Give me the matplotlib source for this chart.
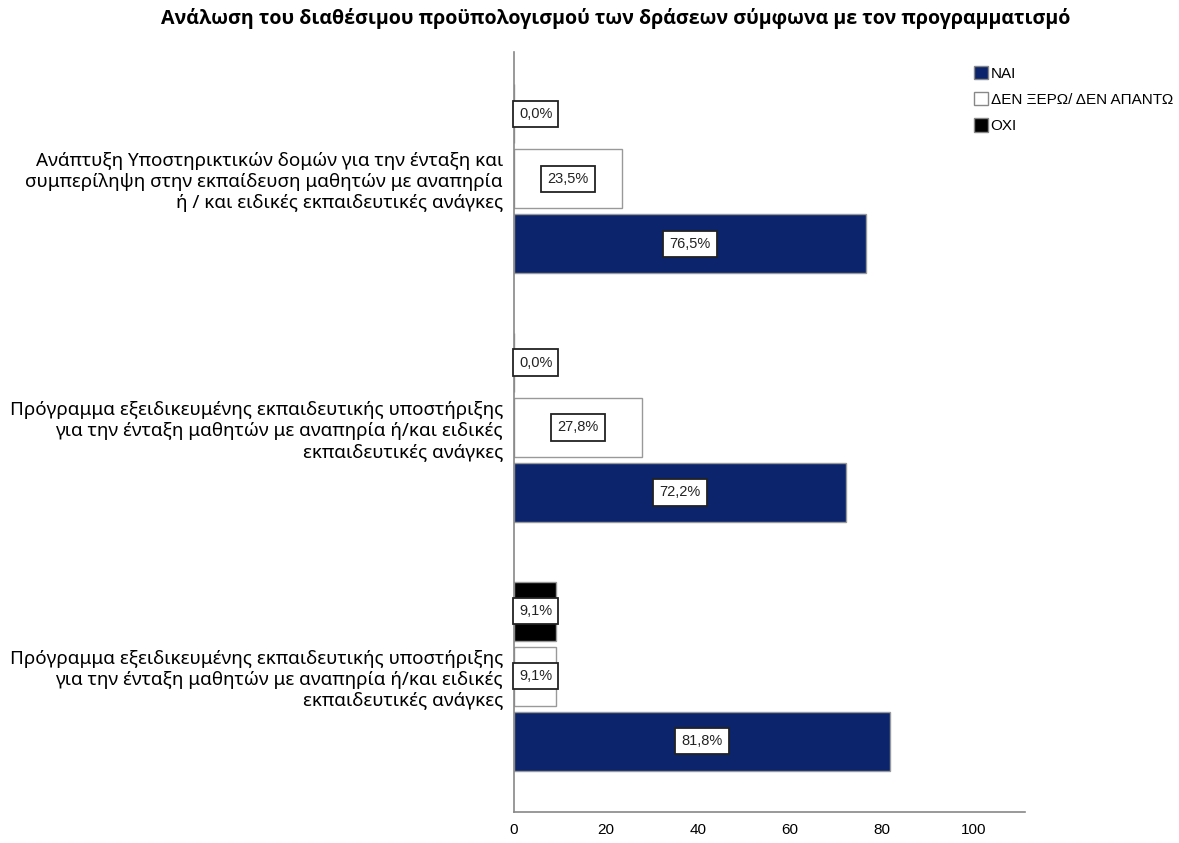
import matplotlib.pyplot as plt
import matplotlib as mpl
from matplotlib.patches import Patch
import numpy as np

mpl.rcParams['font.family'] = ['Noto Sans', 'DejaVu Sans']

# δεδομένα
categories = [
    'Ανάπτυξη Υποστηρικτικών δομών για την ένταξη και\nσυμπερίληψη στην εκπαίδευση μαθητών με αναπηρία\nή / και ειδικές εκπαιδευτικές ανάγκες',
    'Πρόγραμμα εξειδικευμένης εκπαιδευτικής υποστήριξης\nγια την ένταξη μαθητών με αναπηρία ή/και ειδικές\nεκπαιδευτικές ανάγκες',
    'Πρόγραμμα εξειδικευμένης εκπαιδευτικής υποστήριξης\nγια την ένταξη μαθητών με αναπηρία ή/και ειδικές\nεκπαιδευτικές ανάγκες',
]
series_names = ['ΝΑΙ', 'ΔΕΝ ΞΕΡΩ/ ΔΕΝ ΑΠΑΝΤΩ', 'ΟΧΙ']
nai = [76.5, 72.2, 81.8]
den_xero = [23.5, 27.8, 9.1]
oxi = [0.0, 0.0, 9.1]

title = 'Ανάλωση του διαθέσιμου προϋπολογισμού των δράσεων σύμφωνα με τον προγραμματισμό'
xticks = [0, 20, 40, 60, 80, 100]

narrow = ['Liberation Sans Narrow', 'Liberation Sans', 'DejaVu Sans']

fig = plt.figure(figsize=(11.79, 8.43), dpi=100, facecolor='w')
ax = fig.add_axes([0.436, 0.0368, 0.433, 0.901])

y = np.arange(len(categories))
slot = 0.261
h = 0.237
styles = [
    (nai, '#0b246b', '#999999', 1.0),
    (den_xero, 'white', '#999999', 0.0),
    (oxi, 'black', '#999999', -1.0),
]
for vals, fc, ec, off in styles:
    ax.barh(y + off * slot, vals, height=h, color=fc, edgecolor=ec, linewidth=1.0)
    for yi, v in zip(y, vals):
        lab = ('%.1f%%' % v).replace('.', ',')
        ax.text(max(v / 2, 4.7), yi + off * slot, lab, ha='center', va='center',
                fontsize=10.5, family=narrow, color='#222222',
                bbox=dict(boxstyle='square,pad=0.42', fc='white', ec='#222222', lw=1.3))

ax.set_ylim(2.546, -0.508)
ax.set_xlim(0, 111)
ax.set_yticks(y)
ax.set_yticklabels(categories, fontsize=13.6, linespacing=1.2)
ax.set_xticks(xticks)
ax.set_xticklabels([str(t) for t in xticks], family=narrow, fontsize=11)
ax.tick_params(axis='both', length=0)
ax.tick_params(axis='x', pad=8)
ax.tick_params(axis='y', pad=8)
for s in ['top', 'right']:
    ax.spines[s].set_visible(False)
for s in ['left', 'bottom']:
    ax.spines[s].set_color('#888888')
    ax.spines[s].set_linewidth(1.2)

fig.text(0.522, 0.978, title, ha='center', va='center', fontsize=14.1,
         fontweight='bold', family=['Open Sans', 'DejaVu Sans'])

handles = [Patch(fc='#0b246b', ec='#888888'), Patch(fc='white', ec='#888888'), Patch(fc='black', ec='#888888')]
fig.legend(handles, series_names, loc='upper left', bbox_to_anchor=(0.826, 0.922),
           frameon=False, prop={'family': narrow, 'size': 11},
           borderpad=0, borderaxespad=0,
           handlelength=0.95, handleheight=0.95, handletextpad=0.15, labelspacing=0.75)

fig.savefig('out.png', dpi=100)
